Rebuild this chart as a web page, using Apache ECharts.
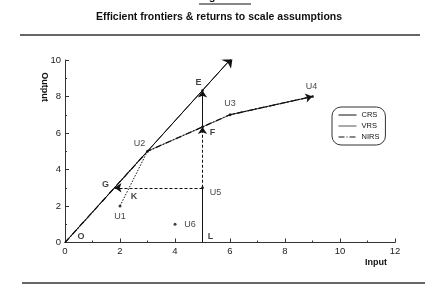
<!DOCTYPE html>
<html><head><meta charset="utf-8">
<script src="https://cdn.jsdelivr.net/npm/echarts@6/dist/echarts.min.js"></script>
<style>html,body{margin:0;padding:0;background:#fff}#c{width:438px;height:286px}</style>
</head><body><div id="c"></div>
<script>
// ---- data ----
const pointNames = ['U1','U2','U3','U4','U5','U6'];
const pointX = [2, 3, 6, 9, 5, 4];
const pointY = [2, 5, 7, 8, 3, 1];
const markNames = ['O','G','K','E','F','L'];
const markX = [0, 1.8, 2.33, 5, 5, 5];
const markY = [0, 3, 3, 8.33, 6.33, 0];
const crsX = [0, 6.1];
const crsY = [0, 10.17];
const vrsX = [3, 6, 9];
const vrsY = [5, 7, 8];
const nirsX = [0, 3, 6, 9];
const nirsY = [0, 5, 7, 8];
const xTicks = [0, 2, 4, 6, 8, 10, 12];
const yTicks = [0, 2, 4, 6, 8, 10];

const P = {};
pointNames.forEach((n,i)=>P[n]=[pointX[i],pointY[i]]);
markNames.forEach((n,i)=>P[n]=[markX[i],markY[i]]);
const zip = (xs,ys)=>xs.map((x,i)=>[x,ys[i]]);

// label offsets (style)
const offs = {U1:[0,11],U2:[-8,-8],U3:[0,-11],U4:[-1,-10],U5:[13,5],U6:[15,0],
  O:[16,-6],G:[-9,-3],K:[5,9],E:[-4,-8],F:[10,6],L:[8,-6]};

const chart = echarts.init(document.getElementById('c'));
const black = '#111';
chart.setOption({
  animation:false,
  color:[black,black,black],
  grid:{left:65,right:43,top:60,bottom:43.5},
  xAxis:{type:'value',min:xTicks[0],max:xTicks[xTicks.length-1],interval:2,
    axisLine:{lineStyle:{color:'#333',width:1}},
    axisTick:{inside:true,length:4,lineStyle:{color:'#333'}},
    minorTick:{show:true,splitNumber:2,length:2,lineStyle:{color:'#333'}},
    splitLine:{show:false},
    axisLabel:{color:'#222',fontSize:9.5,margin:4,fontFamily:'Liberation Sans'}},
  yAxis:{type:'value',min:yTicks[0],max:yTicks[yTicks.length-1],interval:2,
    axisLine:{show:true,lineStyle:{color:'#333',width:1}},
    axisTick:{show:true,inside:true,length:4,lineStyle:{color:'#333'}},
    minorTick:{show:true,splitNumber:2,length:2,lineStyle:{color:'#333'}},
    splitLine:{show:false},
    axisLabel:{color:'#222',fontSize:9.5,margin:4,fontFamily:'Liberation Sans'}},
  legend:{orient:'vertical',left:332,top:107,data:['CRS','VRS','NIRS'],
    itemWidth:18,itemHeight:6,itemGap:3,padding:[4,6,4,6],
    itemStyle:{opacity:0},lineStyle:{width:1},
    borderColor:'#333',borderWidth:1,borderRadius:9,
    textStyle:{fontSize:7.5,color:'#111',fontFamily:'Liberation Sans'}},
  graphic:[
    {type:'text',x:225,y:-3,style:{text:'Figure 2.6',font:'bold 11px "Liberation Sans"',fill:'#111',align:'center',verticalAlign:'middle'}},
    {type:'line',shape:{x1:199,y1:4,x2:251,y2:4},style:{stroke:'#111',lineWidth:1}},
    {type:'text',x:219,y:17,style:{text:'Efficient frontiers & returns to scale assumptions',font:'bold 10.5px "Liberation Sans"',fill:'#111',align:'center',verticalAlign:'middle'}},
    {type:'line',shape:{x1:20,y1:35,x2:420,y2:35},style:{stroke:'#333',lineWidth:1.3}},
    {type:'line',shape:{x1:22,y1:283,x2:425,y2:283},style:{stroke:'#333',lineWidth:1.3}},
    {type:'text',x:44,y:87,rotation:-Math.PI/2,style:{text:'Output',font:'bold 9px "Liberation Sans"',fill:'#111',align:'center',verticalAlign:'middle'}},
    {type:'text',x:376,y:263,style:{text:'Input',font:'bold 9px "Liberation Sans"',fill:'#111',align:'center',verticalAlign:'middle'}}
  ],
  series:[
    {name:'CRS',type:'line',data:zip(crsX,crsY),symbol:'none',
      itemStyle:{color:black},lineStyle:{color:black,width:1},z:3},
    {name:'VRS',type:'line',data:zip(vrsX,vrsY),symbol:'none',
      itemStyle:{color:black},lineStyle:{color:'#555',width:1},z:3},
    {name:'NIRS',type:'line',data:zip(nirsX,nirsY),symbol:'none',
      itemStyle:{color:black},lineStyle:{color:black,width:1.3,type:[6,2,1,2]},z:4},
    {type:'lines',coordinateSystem:'cartesian2d',symbol:['none','none'],silent:true,z:3,
      lineStyle:{color:black,opacity:1},
      data:[
        {coords:[P.U1,P.U2],lineStyle:{type:[1.5,1.5],color:black,width:1,opacity:1}},
        {coords:[P.L,P.U5],lineStyle:{type:'solid',color:black,width:1,opacity:1}}
      ]},
    {type:'lines',coordinateSystem:'cartesian2d',symbol:['none','arrow'],symbolSize:10,silent:true,z:5,
      lineStyle:{color:black,width:1,opacity:1},
      data:[{coords:[P.O,[crsX[1],crsY[1]]]}]},
    {type:'lines',coordinateSystem:'cartesian2d',symbol:['none','arrow'],symbolSize:7,silent:true,z:5,
      lineStyle:{color:black,opacity:1},
      data:[
        {coords:[P.U5,P.F],lineStyle:{type:[3,2],color:black,width:1,opacity:1}},
        {coords:[P.F,P.E],lineStyle:{type:'solid',color:black,width:1,opacity:1}},
        {coords:[P.U5,P.G],lineStyle:{type:[3,2],color:black,width:1,opacity:1}},
        {coords:[P.U3,P.U4],lineStyle:{type:[6,2,1,2],color:black,width:1,opacity:1}}
      ]},
    {type:'scatter',symbol:'circle',symbolSize:3,itemStyle:{color:black},silent:true,z:6,
      data:pointNames.map((n,i)=>[pointX[i],pointY[i]]).concat([P.E,P.F])},
    {type:'scatter',symbolSize:0,silent:true,z:7,
      data:pointNames.concat(markNames).map(n=>({name:n,value:P[n],
        label:{show:true,position:'inside',offset:offs[n],formatter:n,
          fontSize:9,fontFamily:'Liberation Sans',color:'#111',
          fontWeight:n.length===1?'bold':'normal'}}))}
  ]
});
</script></body></html>
